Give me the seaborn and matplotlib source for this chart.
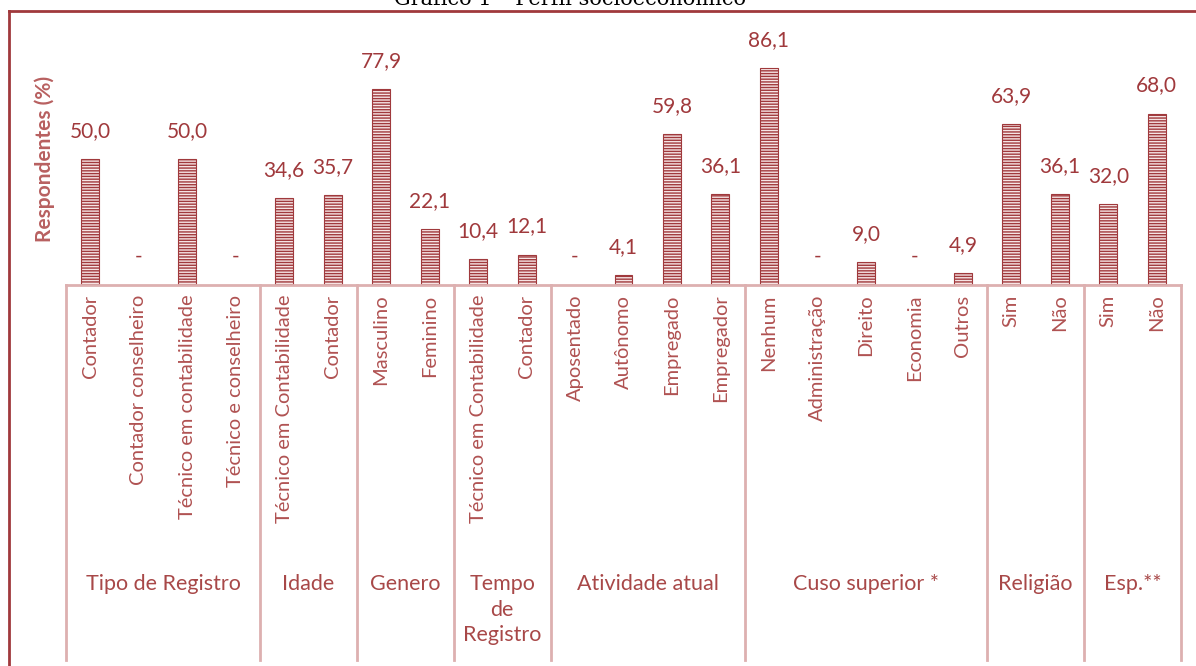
import matplotlib
matplotlib.use("Agg")
import matplotlib.pyplot as plt
import seaborn as sns
import numpy as np
import pandas as pd

# groups and their items (in order)
groups = ["Tipo de Registro", "Idade", "Genero", "Tempo\nde\nRegistro",
          "Atividade atual", "Cuso superior *", "Religião", "Esp.**"]
items = [
    ["Contador", "Contador conselheiro", "Técnico em contabilidade", "Técnico e conselheiro"],
    ["Técnico em Contabilidade", "Contador"],
    ["Masculino", "Feminino"],
    ["Técnico em Contabilidade", "Contador"],
    ["Aposentado", "Autônomo", "Empregado", "Empregador"],
    ["Nenhum", "Administração", "Direito", "Economia", "Outros"],
    ["Sim", "Não"],
    ["Sim", "Não"],
]
values = [
    [50.0, np.nan, 50.0, np.nan],
    [34.6, 35.7],
    [77.9, 22.1],
    [10.4, 12.1],
    [np.nan, 4.1, 59.8, 36.1],
    [86.1, np.nan, 9.0, np.nan, 4.9],
    [63.9, 36.1],
    [32.0, 68.0],
]

rows = []
for g, its, vals in zip(groups, items, values):
    for it, v in zip(its, vals):
        rows.append({"group": g, "item": it, "key": f"{g}|{it}", "value": v})
df = pd.DataFrame(rows)
order = df["key"].tolist()

dark = "#A0393C"
mid = "#A84848"
light = "#DDB0B0"

fig = plt.figure(figsize=(11.96, 6.66), dpi=100)
ax = fig.add_axes([66 / 1196, 381 / 666, 1115 / 1196, 252 / 666])
plt.rcParams["hatch.linewidth"] = 1.0

sns.barplot(data=df.dropna(), x="key", y="value", order=order, width=0.37, ax=ax)
for p in ax.patches:
    p.set_facecolor("#F6E4E4")
    p.set_edgecolor(dark)
    p.set_hatch("------")
    p.set_linewidth(0.8)

ax.set_xlim(-0.5, len(order) - 0.5)
ax.set_ylim(0, 100)

# value labels
for i, v in enumerate(df["value"]):
    txt = "-" if np.isnan(v) else f"{v:.1f}".replace(".", ",")
    y = 0 if np.isnan(v) else v
    ax.annotate(txt, (i, y), xytext=(0, 13), textcoords="offset points",
                ha="center", va="bottom", fontsize=15, color=dark, family="Lato")

# item tick labels
ax.set_xticks(range(len(order)))
ax.set_xticklabels(df["item"], rotation=90, ha="center", va="top",
                   fontsize=14.5, color="#B05252", family="Lato")
ax.tick_params(axis="x", length=0, pad=7)
ax.set_yticks([])
ax.set_xlabel("")
ax.set_ylabel("Respondentes (%)", fontsize=15, fontweight="bold",
              color="#B86060", family="Lato", labelpad=8)

for s in ["top", "right", "left"]:
    ax.spines[s].set_visible(False)
ax.spines["bottom"].set_color(light)
ax.spines["bottom"].set_linewidth(2)

# group separators and group labels
trans = ax.get_xaxis_transform()
depth = (660 - 285) / 252
bounds = [-0.5]
for its in items:
    bounds.append(bounds[-1] + len(its))
for b in bounds:
    ax.plot([b, b], [0, -depth], transform=trans, color=light, lw=2, clip_on=False)
for g, a, b in zip(groups, bounds[:-1], bounds[1:]):
    ax.text((a + b) / 2, -(574 - 285) / 252, g, transform=trans, ha="center", va="top",
            fontsize=15.5, color=mid, family="Lato", linespacing=1.35)

# frame and title (title is partly cut at the top, as in the source)
fig.add_artist(plt.Line2D([9 / 1196, 1], [1 - 11 / 666] * 2, color=dark, lw=2))
fig.add_artist(plt.Line2D([9 / 1196] * 2, [0, 1 - 11 / 666], color=dark, lw=2))
fig.text(570 / 1196, 1 - 5 / 666, "Gráfico 1 – Perfil socioeconômico", ha="center",
         va="baseline", fontsize=15, color="black", family="DejaVu Serif")

fig.savefig("out.png", dpi=100)
